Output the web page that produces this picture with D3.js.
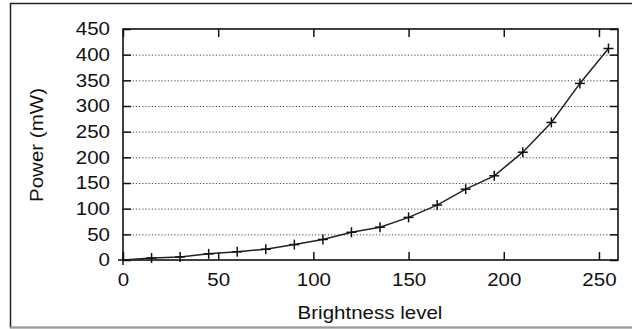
<!DOCTYPE html>
<html>
<head>
<meta charset="utf-8">
<script src="https://cdn.jsdelivr.net/npm/d3@7/dist/d3.min.js"></script>
<style>
  body { margin: 0; background: #fff; }
  text { font-family: "Liberation Sans", Arial, sans-serif; fill: #111; }
</style>
</head>
<body>
<svg id="chart"></svg>
<script>
// data
var brightness = [0, 15, 30, 45, 60, 75, 90, 105, 120, 135, 150, 165, 180, 195, 210, 225, 240, 255];
var power = [0, 4, 6, 12, 16, 21, 30, 40, 54, 64, 83, 107, 138, 164, 210, 268, 344, 412];
var xTicks = [0, 50, 100, 150, 200, 250];
var yTicks = [0, 50, 100, 150, 200, 250, 300, 350, 400, 450];
var gridValues = [50, 100, 150, 200, 250, 300, 350, 400];

var svgWidth = 632, svgHeight = 329;
// note: "top" is taken by window.top, so prefix these
var plotLeft = 123, plotRight = 618, plotTop = 29, plotBottom = 260;
var stretch = 1.14; // text in the picture is a bit wider than normal

var svg = d3.select('#chart')
	.attr("width", svgWidth)
	.attr("height", svgHeight);

// outer frame
svg.append("rect")
	.attr("x", 10.5).attr("y", 3.5)
	.attr("width", 640).attr("height", 324)
	.attr("fill", "none")
	.attr("stroke", "#222")
	.attr("stroke-width", 1.5);
svg.append("line")
	.attr("x1", 10).attr("x2", 632)
	.attr("y1", 327.5).attr("y2", 327.5)
	.attr("stroke", "#999").attr("stroke-width", 1.5);

var x = d3.scaleLinear().domain([0, 260]).range([plotLeft, plotRight]);
var y = d3.scaleLinear().domain([0, 450]).range([plotBottom, plotTop]);

// dotted grid
svg.append("g")
	.attr("transform", "translate(" + plotLeft + ",0)")
	.call(d3.axisLeft(y).tickValues(gridValues).tickSize(-(plotRight - plotLeft)).tickFormat(""))
	.call(function(g) {
		g.select(".domain").remove();
		g.selectAll("line")
			.attr("stroke", "#444")
			.attr("stroke-width", 1)
			.attr("stroke-dasharray", "1.2,2");
	});

// left axis, ticks pointing in
svg.append("g")
	.attr("transform", "translate(" + plotLeft + ",0)")
	.call(d3.axisLeft(y).tickValues(yTicks).tickSizeInner(-8).tickSizeOuter(0).tickPadding(13))
	.call(function(g) {
		g.select(".domain").remove();
		g.selectAll("line").attr("stroke", "#111").attr("stroke-width", 1.5);
		g.selectAll("text")
			.attr("x", 0)
			.attr("transform", "translate(-13,0) scale(" + stretch + ",1)")
			.style("font-size", "18px")
			.style("fill", "#111");
	});

// right mirror ticks
svg.append("g")
	.attr("transform", "translate(" + plotRight + ",0)")
	.call(d3.axisRight(y).tickValues(yTicks).tickSizeInner(-8).tickSizeOuter(0).tickFormat(""))
	.call(function(g) {
		g.select(".domain").remove();
		g.selectAll("line").attr("stroke", "#111").attr("stroke-width", 1.5);
	});

// bottom axis
svg.append("g")
	.attr("transform", "translate(0," + plotBottom + ")")
	.call(d3.axisBottom(x).tickValues(xTicks).tickSizeInner(-8).tickSizeOuter(0).tickPadding(13))
	.call(function(g) {
		g.select(".domain").remove();
		g.selectAll("line").attr("stroke", "#111").attr("stroke-width", 1.5);
		g.selectAll("text")
			.attr("y", 0)
			.attr("transform", "translate(0,13) scale(" + stretch + ",1)")
			.style("font-size", "18px")
			.style("fill", "#111");
	});

// top mirror ticks
svg.append("g")
	.attr("transform", "translate(0," + plotTop + ")")
	.call(d3.axisTop(x).tickValues(xTicks).tickSizeInner(-8).tickSizeOuter(0).tickFormat(""))
	.call(function(g) {
		g.select(".domain").remove();
		g.selectAll("line").attr("stroke", "#111").attr("stroke-width", 1.5);
	});

// plot border
svg.append("rect")
	.attr("x", plotLeft).attr("y", plotTop)
	.attr("width", plotRight - plotLeft).attr("height", plotBottom - plotTop)
	.attr("fill", "none")
	.attr("stroke", "#111")
	.attr("stroke-width", 1.6);

// the curve
var points = brightness.map(function(b, i) { return [b, power[i]]; });
var line = d3.line()
	.x(function(d) { return x(d[0]); })
	.y(function(d) { return y(d[1]); });

svg.append("path")
	.datum(points)
	.attr("d", line)
	.attr("fill", "none")
	.attr("stroke", "#222")
	.attr("stroke-width", 1.5);

// plus markers
var marker = svg.selectAll(".marker")
	.data(points)
	.enter()
	.append("g")
	.attr("class", "marker")
	.attr("transform", function(d) { return "translate(" + x(d[0]) + "," + y(d[1]) + ")"; });
marker.append("line").attr("x1", -5).attr("x2", 5).attr("y1", 0).attr("y2", 0);
marker.append("line").attr("x1", 0).attr("x2", 0).attr("y1", -5).attr("y2", 5);
marker.selectAll("line").attr("stroke", "#111").attr("stroke-width", 1.5);

// axis titles
svg.append("text")
	.attr("transform", "translate(370,319) scale(" + stretch + ",1)")
	.attr("text-anchor", "middle")
	.style("font-size", "18px")
	.text("Brightness level");

svg.append("text")
	.attr("transform", "translate(37,145) rotate(-90) scale(" + stretch + ",1)")
	.attr("text-anchor", "middle")
	.attr("dy", "0.35em")
	.style("font-size", "18px")
	.text("Power (mW)");
</script>
</body>
</html>
